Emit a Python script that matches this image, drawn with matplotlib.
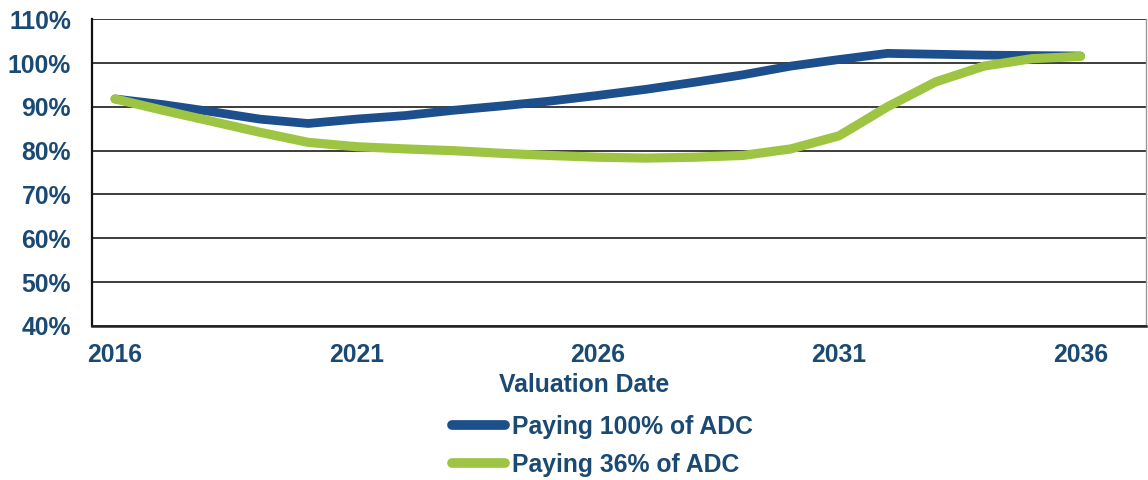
import matplotlib.pyplot as plt
import matplotlib.ticker as tck

# Data
YEARS = list(range(2016, 2037))
PAY_100 = [91.8, 90.5, 88.9, 87.2, 86.2, 87.2, 88.0, 89.2, 90.2, 91.3, 92.6,
           94.0, 95.6, 97.3, 99.3, 100.8, 102.2, 102.0, 101.8, 101.7, 101.6]
PAY_36 = [91.8, 89.2, 86.7, 84.2, 81.9, 80.9, 80.4, 80.0, 79.4, 78.9, 78.5,
          78.3, 78.5, 78.9, 80.4, 83.4, 90.0, 95.7, 99.3, 101.0, 101.5]
X_TICKS = [2016, 2021, 2026, 2031, 2036]
Y_TICKS = [40, 50, 60, 70, 80, 90, 100, 110]

# Style
BLUE = '#1C4F8C'
GREEN = '#9DC543'
TEXT = '#1A4A73'
GRID = '#3c3c3c'
FONT = 'Liberation Sans'
FS = 17.8

plt.rcParams['font.family'] = [FONT, 'DejaVu Sans']

fig = plt.figure(figsize=(11.48, 4.8), dpi=100)
ax = fig.add_axes([0.080, 0.321, 0.918, 0.639])

ax.plot(YEARS, PAY_100, color=BLUE, linewidth=6.3, solid_capstyle='round',
        solid_joinstyle='round', label='Paying 100% of ADC', zorder=3)
ax.plot(YEARS, PAY_36, color=GREEN, linewidth=6.6, solid_capstyle='round',
        solid_joinstyle='round', label='Paying 36% of ADC', zorder=4)

ax.set_xlim(2015.52, 2037.35)
ax.set_ylim(40, 110)
ax.set_xticks(X_TICKS)
ax.set_yticks(Y_TICKS)
ax.yaxis.set_major_formatter(tck.FuncFormatter(lambda v, p: '%d%%' % v))

ax.grid(axis='y', color=GRID, linewidth=1.4, zorder=1)
ax.set_axisbelow(True)
ax.spines['top'].set_visible(False)
ax.spines['right'].set_color('#9a9a9a')
ax.spines['right'].set_linewidth(1.0)
ax.spines['left'].set_color('#111111')
ax.spines['left'].set_linewidth(1.6)
ax.spines['bottom'].set_color('#222222')
ax.spines['bottom'].set_linewidth(1.8)

ax.tick_params(axis='both', length=0, labelsize=FS, labelcolor=TEXT)
ax.tick_params(axis='y', pad=15)
ax.tick_params(axis='x', pad=12)
for lab in ax.get_xticklabels() + ax.get_yticklabels():
    lab.set_fontweight('bold')

ax.set_xlabel('Valuation Date', fontsize=FS, fontweight='bold', color=TEXT)
ax.xaxis.set_label_coords(0.467, -0.153)

leg = fig.legend(loc='center', bbox_to_anchor=(0.525, 0.071), frameon=False,
                 handlelength=2.15, handletextpad=0.3, labelspacing=0.55,
                 prop={'family': FONT, 'weight': 'bold', 'size': FS})
for t in leg.get_texts():
    t.set_color(TEXT)
for h in leg.legend_handles:
    h.set_linewidth(7)
    h.set_solid_capstyle('round')

fig.savefig('out.png', dpi=100)
